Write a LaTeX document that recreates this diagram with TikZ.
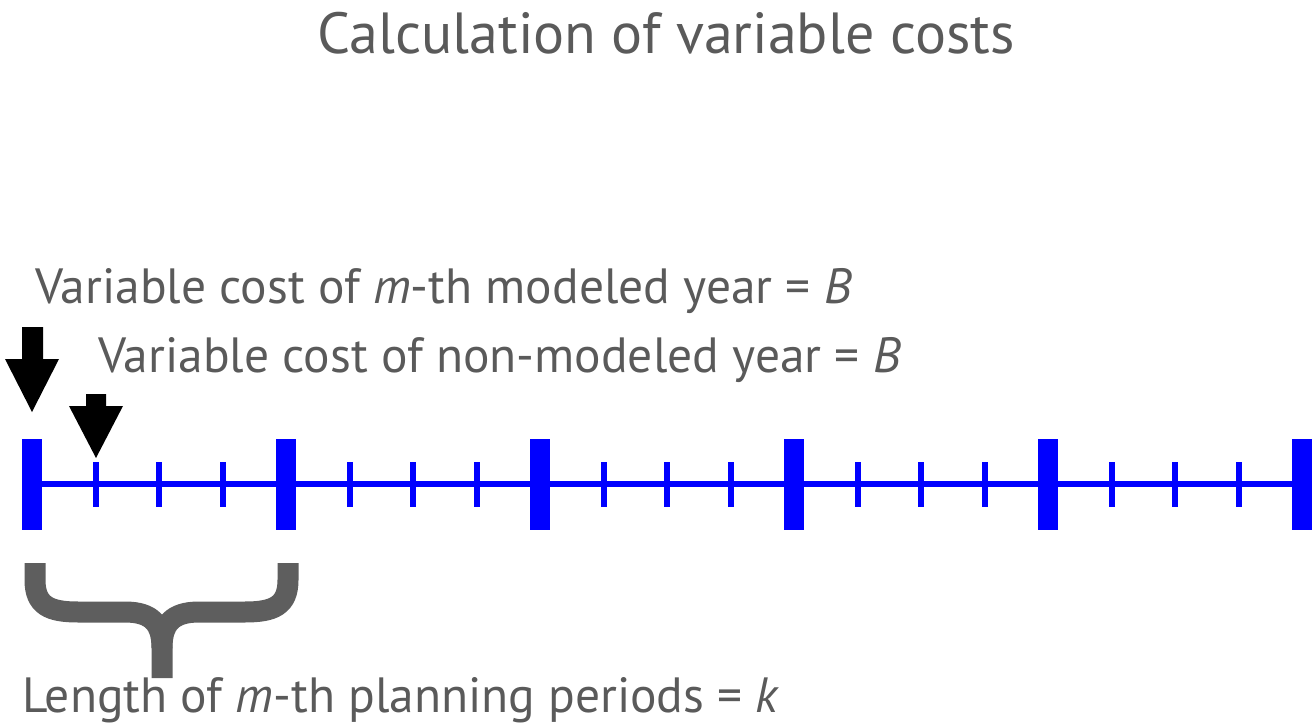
\documentclass[tikz,border=0pt]{standalone}
\usepackage{fontspec}
\setmainfont{PT Sans}
\definecolor{txtgray}{HTML}{5A5A5A}
\definecolor{bracegray}{HTML}{5E5E5E}
\definecolor{lineblue}{HTML}{0000FF}
\tikzset{
  lbl/.style={inner sep=0pt, text=txtgray, font=\fontsize{49.5}{60}\selectfont},
  ttl/.style={inner sep=0pt, text=txtgray, font=\fontsize{58}{68}\selectfont},
  bigtick/.style={fill=lineblue, draw=none, minimum width=20pt, minimum height=91pt, inner sep=0pt},
  smalltick/.style={fill=lineblue, draw=none, minimum width=6pt, minimum height=45pt, inner sep=0pt},
  axis/.style={draw=lineblue, line width=6pt},
  downarrow/.style={fill=black, draw=none},
  bracestyle/.style={draw=bracegray, line width=21pt}
}
\begin{document}
\begin{tikzpicture}[x=1pt,y=-1pt]
\useasboundingbox (0,0) rectangle (1314,727);
% title
\node[ttl, anchor=base] (title) at (666,54) {Calculation of variable costs};
% labels
\node[lbl, anchor=base west] (lab1) at (35,303) {Variable cost of \textit{m}-th modeled year = \textit{B}};
\node[lbl, anchor=base west] (lab2) at (98,372) {Variable cost of non-modeled year = \textit{B}};
\node[lbl, anchor=base west] (lab3) at (22,712) {Length of \textit{m}-th planning periods = \textit{k}};
% axis
\coordinate (start) at (32,484);
\coordinate (end) at (1302,484);
\draw[axis] (start) -- (end);
\foreach \i in {0,...,5}{
  \node[bigtick] (B\i) at ({32+254*\i},484) {};
}
\foreach \i in {0,...,4}{
  \foreach \j in {1,2,3}{
    \node[smalltick] (S\i\j) at ({32+254*\i+63.5*\j},484) {};
  }
}
% arrows
\fill[downarrow] (22,327) -- (43,327) -- (43,359) -- (59,359) -- (32,412) -- (5,359) -- (22,359) -- cycle;
\fill[downarrow] (86,394) -- (106,394) -- (106,406) -- (123,406) -- (96,458) -- (69,406) -- (86,406) -- cycle;
% brace
\coordinate (bl) at (35,563);
\coordinate (br) at (288,563);
\coordinate (bm) at (162,678);
\draw[bracestyle] (bl) -- (35,580) .. controls (35,606) and (50,612) .. (78,612) -- (125,612) .. controls (152,612) and (162,624) .. (162,648) -- (bm);
\draw[bracestyle] (br) -- (288,580) .. controls (288,606) and (273,612) .. (245,612) -- (199,612) .. controls (172,612) and (162,624) .. (162,648);
\end{tikzpicture}
\end{document}
